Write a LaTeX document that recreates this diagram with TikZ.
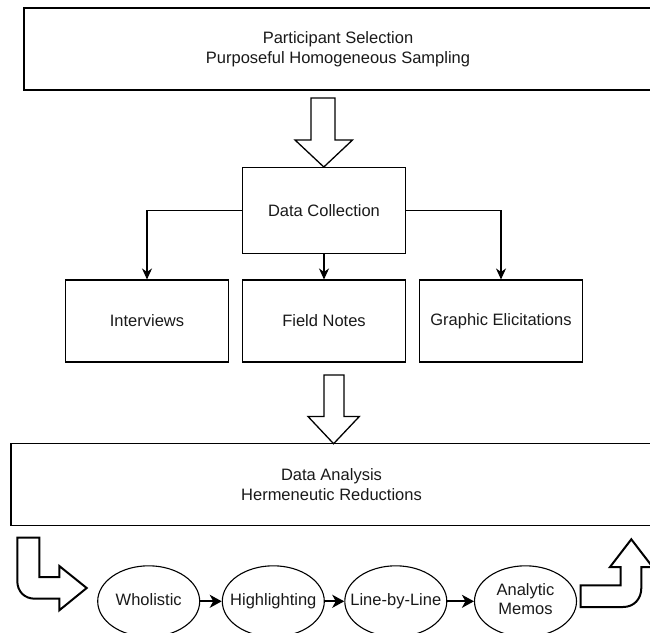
\documentclass[tikz,border=0pt]{standalone}
\usepackage{fontspec}
\setmainfont{Liberation Sans}
\usetikzlibrary{arrows.meta,shapes.geometric}
\newcommand{\zw}[1]{\makebox[0pt][c]{\begin{tabular}{@{}c@{}}#1\end{tabular}}}
\begin{document}
\begin{tikzpicture}[x=1pt,y=-1pt,
  every node/.style={font=\fontsize{16.5}{19.5}\selectfont, align=center, text=black!90},
  box/.style={draw, line width=1.1pt, inner sep=0pt},
  oval/.style={draw, ellipse, line width=1.1pt, minimum width=102pt, minimum height=71pt, inner sep=0pt},
  conn/.style={line width=1.1pt, -{Stealth[length=11pt,width=10pt,inset=3.5pt]}},
  flow/.style={line width=2pt, -{Stealth[length=12pt,width=13pt,inset=3.5pt]}},
  blockarr/.style={draw, line width=1.3pt, fill=white, line join=miter},
  bentarr/.style={draw, line width=2pt, fill=white, line join=miter}]
\useasboundingbox (0,0) rectangle (650,632);
\clip (0,0) rectangle (650,632);

% top box
\node[box, minimum width=628pt, minimum height=82pt] (sel) at (338,49) {Participant Selection\\Purposeful Homogeneous Sampling};

% block arrow 1
\draw[blockarr] (311,98) -- (335,98) -- (335,140) -- (352.5,140) -- (323.8,167) -- (295,140) -- (311,140) -- cycle;

% data collection
\node[box, minimum width=163.4pt, minimum height=85.6pt] (dc) at (324,210.5) {Data Collection};

\node[box, minimum width=162.6pt, minimum height=82pt] (int) at (147,321) {Interviews};
\node[box, minimum width=163.4pt, minimum height=82pt] (fn) at (324,321) {Field Notes};
\node[box, minimum width=163.4pt, minimum height=82pt] (ge) at (501,321) {Graphic Elicitations};

\draw[conn] (dc.west) -| (int.north);
\draw[conn] (dc.south) -- (fn.north);
\draw[conn] (dc.east) -| (ge.north);

% block arrow 2
\draw[blockarr] (324,375) -- (344,375) -- (344,416.5) -- (359.3,416.5) -- (333.6,443.7) -- (308,416.5) -- (324,416.5) -- cycle;

% data analysis
\node[box, minimum width=641pt, minimum height=81.6pt] (da) at (331.5,484.5) {Data Analysis\\Hermeneutic Reductions};

% left bent arrow
\draw[bentarr] (17.3,537.7) -- (39.3,537.7) -- (39.3,577) -- (59.3,577) -- (59.3,566) -- (86.7,588) -- (59.3,610.3) -- (59.3,598.7) -- (35,598.7)
  .. controls (24.5,598.7) and (17.3,591.5) .. (17.3,581) -- cycle;

% ellipses
\node[oval] (w) at (148.7,601.3) {\zw{Wholistic}};
\node[oval] (h) at (273.3,601.3) {\zw{Highlighting}};
\node[oval] (l) at (395.8,601.3) {\zw{Line-by-Line}};
\node[oval] (m) at (525.5,601.3) {\zw{Analytic\\Memos}};

\draw[flow] (w) -- (h);
\draw[flow] (h) -- (l);
\draw[flow] (l) -- (m);

% right bent arrow
\draw[bentarr] (580.7,585.3) -- (620.7,585.3) -- (620.7,567) -- (610,567) -- (631.3,539.3) -- (652.6,567) -- (641.3,567) -- (641.3,588)
  .. controls (641.3,599) and (634,607) .. (623,607) -- (580.7,607) -- cycle;
\end{tikzpicture}
\end{document}
